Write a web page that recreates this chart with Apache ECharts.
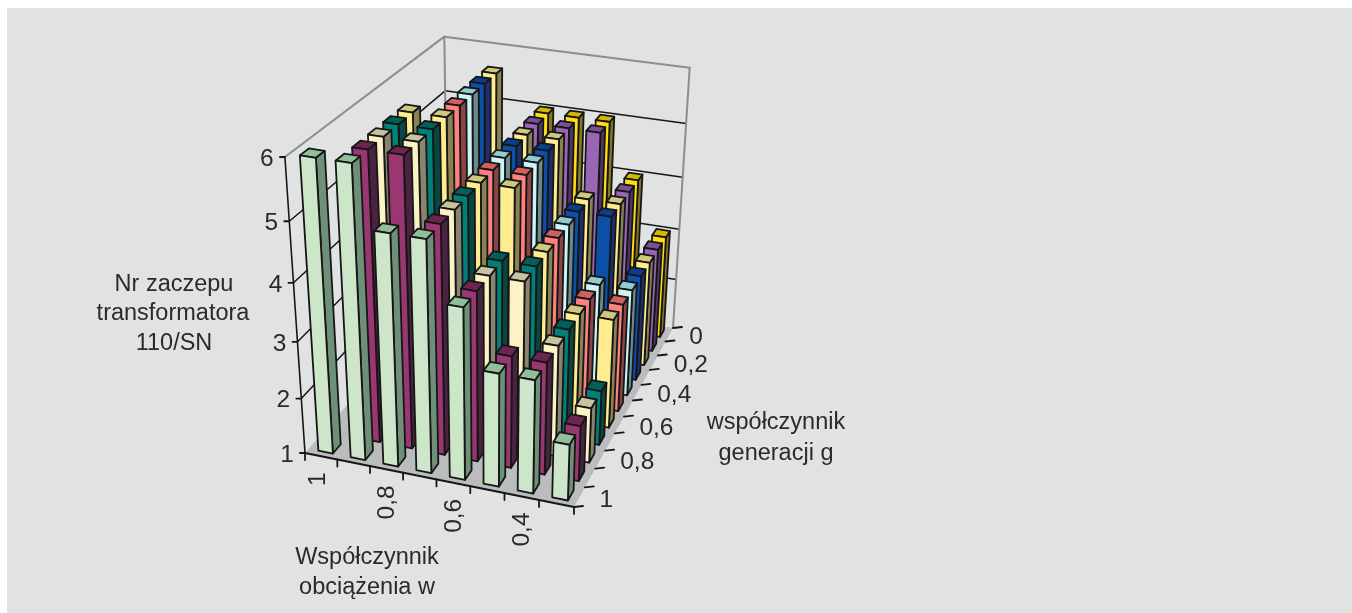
<!DOCTYPE html>
<html>
<head>
<meta charset="utf-8">
<title>Nr zaczepu transformatora 110/SN</title>
<style>
  html, body { margin: 0; padding: 0; background: #ffffff; }
  #chart { width: 1352px; height: 613px; }
</style>
<script src="https://cdn.jsdelivr.net/npm/echarts@6/dist/echarts.min.js"></script>
</head>
<body>
<div id="chart"></div>
<script>
// Load factor categories (front-left to front-right along the floor)
const loadFactors = ['1', '0,9', '0,8', '0,7', '0,6', '0,5', '0,4', '0,3'];
const loadTickLabels = ['1', '', '0,8', '', '0,6', '', '0,4', ''];
// Generation factor categories (front to back)
const genFactors = ['1', '0,9', '0,8', '0,7', '0,6', '0,5', '0,4', '0,3', '0,2', '0,1', '0'];
const genTickLabels = ['1', '', '0,8', '', '0,6', '', '0,4', '', '0,2', '', '0'];
const tapTicks = [1, 2, 3, 4, 5, 6];

// Tap position per generation factor, listed along the load factor categories
const tapG10 = [6, 6, 5, 5, 4, 3, 3, 2];
const tapG09 = [null, 6, 6, 5, 4, 3, 3, 2];
const tapG08 = [null, 6, 6, 5, 4, 4, 3, 2];
const tapG07 = [null, 6, 6, 5, 4, 4, 3, 2];
const tapG06 = [null, 6, 6, 5, 5, 4, 3, 3];
const tapG05 = [null, null, 6, 5, 5, 4, 3, 3];
const tapG04 = [null, null, 6, 5, 5, 4, 3, 3];
const tapG03 = [null, null, 6, 5, 5, 4, 4, 3];
const tapG02 = [null, null, 6, 5, 5, 4, 4, 3];
const tapG01 = [null, null, null, 5, 5, 5, 4, 3];
const tapG00 = [null, null, null, 5, 5, 5, 4, 3];

// Rows from the front of the floor to the back, with face / side / top shades
const rows = [
  { values: tapG10, face: '#cde6c9', side: '#6f9078', top: '#90c09a' },
  { values: tapG09, face: '#9a3672', side: '#4a2340', top: '#6e2450' },
  { values: tapG08, face: '#fbf3c5', side: '#87856e', top: '#c6c3a1' },
  { values: tapG07, face: '#008077', side: '#0b4541', top: '#00605a' },
  { values: tapG06, face: '#ffec90', side: '#8a8152', top: '#d0c87a' },
  { values: tapG05, face: '#ff8080', side: '#8a4545', top: '#d06060' },
  { values: tapG04, face: '#cdf5f8', side: '#6a8a8c', top: '#90ccd0' },
  { values: tapG03, face: '#0b4fa8', side: '#1e2f70', top: '#0a3e90' },
  { values: tapG02, face: '#ffec90', side: '#8a8152', top: '#d0c87a' },
  { values: tapG01, face: '#9966b4', side: '#503565', top: '#7a4f95' },
  { values: tapG00, face: '#ffdc14', side: '#857520', top: '#d6b800' }
];

// Box corners on the page
const boxFloor = { fl: [305, 453], fr: [574, 507], br: [673, 328], bl: [448, 290] };
const boxTopFrontLeft = [285, 157];
const verticalVanish = [490, 3180];

// Plane-to-quad homography for the floor
function floorHomography(q) {
  const [x0, y0] = q.fl, [x1, y1] = q.fr, [x2, y2] = q.br, [x3, y3] = q.bl;
  const dx1 = x1 - x2, dx2 = x3 - x2, sx = x0 - x1 + x2 - x3;
  const dy1 = y1 - y2, dy2 = y3 - y2, sy = y0 - y1 + y2 - y3;
  const det = dx1 * dy2 - dx2 * dy1;
  const g = (sx * dy2 - dx2 * sy) / det;
  const h = (dx1 * sy - sx * dy1) / det;
  return [x1 - x0 + g * x1, x3 - x0 + h * x3, x0,
          y1 - y0 + g * y1, y3 - y0 + h * y3, y0, g, h, 1];
}
const H = floorHomography(boxFloor);
const lambda = (boxTopFrontLeft[1] - boxFloor.fl[1]) / (verticalVanish[1] - boxTopFrontLeft[1]);

// u: 0..1 along the load axis, v: 0..1 towards the back, value: tap number
function project(u, v, value) {
  const z = (value - tapTicks[0]) / (tapTicks[tapTicks.length - 1] - tapTicks[0]);
  const X = H[0] * u + H[1] * v + H[2] + lambda * z * verticalVanish[0];
  const Y = H[3] * u + H[4] * v + H[5] + lambda * z * verticalVanish[1];
  const W = H[6] * u + H[7] * v + H[8] + lambda * z;
  return [X / W, Y / W];
}

const nLoad = loadFactors.length, nGen = genFactors.length;
const barU = [0.30, 0.75];
const barV = [0.24, 0.76];
const ink = '#161616';
const frameGrey = '#8b8d8e';
const textStyle = { fontFamily: '"Liberation Sans", Arial, sans-serif', fontSize: 23.5, fill: '#2a2a2a' };
const tickFont = { fontSize: 24.5 };

function poly(api, pts, fill, stroke, lineWidth) {
  return {
    type: 'polygon',
    shape: { points: pts.map(p => api.coord(p)) },
    style: { fill: fill, stroke: stroke || null, lineWidth: lineWidth || 0, lineJoin: 'round' }
  };
}
function seg(api, a, b, stroke, lineWidth) {
  const p = api.coord(a), q = api.coord(b);
  return {
    type: 'line',
    shape: { x1: p[0], y1: p[1], x2: q[0], y2: q[1] },
    style: { stroke: stroke, lineWidth: lineWidth, lineCap: 'round' }
  };
}
function label(api, text, at, extra) {
  const p = api.coord(at);
  return {
    type: 'text', x: p[0], y: p[1], rotation: (extra && extra.rotation) || 0,
    style: Object.assign({ text: text, align: 'center', verticalAlign: 'middle' }, textStyle, extra && extra.style)
  };
}

// Floor, walls, gridlines, ticks and every axis text
function renderFrame(params, api) {
  const kids = [];
  kids.push(poly(api, [project(0, 0, 1), project(1, 0, 1), project(1, 1, 1), project(0, 1, 1)], '#babcbd'));
  tapTicks.forEach(t => {
    const colour = t === 6 ? frameGrey : ink;
    const lw = t === 6 ? 2 : 1.5;
    if (t > 1) {
      kids.push(seg(api, project(0, 0, t), project(0, 1, t), colour, lw));
      kids.push(seg(api, project(0, 1, t), project(1, 1, t), colour, lw));
    }
    const p = project(0, 0, t);
    kids.push(seg(api, p, [p[0] - 5, p[1]], ink, 1.8));
    kids.push(label(api, String(t), [p[0] - 18, p[1] + 2], { style: tickFont }));
  });
  kids.push(seg(api, project(0, 1, 1), project(0, 1, 6), frameGrey, 2));
  kids.push(seg(api, project(1, 1, 1), project(1, 1, 6), frameGrey, 2));
  kids.push(seg(api, project(0, 0, 1), project(0, 0, 6), ink, 1.6));
  kids.push(seg(api, project(0, 0, 1), project(1, 0, 1), ink, 2.2));

  for (let i = 0; i <= nLoad; i++) {
    const p = project(i / nLoad, 0, 1);
    kids.push(seg(api, p, [p[0], p[1] + 7], ink, 1.8));
  }
  loadTickLabels.forEach((t, i) => {
    if (!t) return;
    const p = project((i + 0.5) / nLoad, 0, 1);
    kids.push(label(api, t, [p[0] + (t === '1' ? -3 : 1), p[1] + (t === '1' ? 23 : 33)], { rotation: Math.PI / 2, style: tickFont }));
  });
  for (let j = 0; j <= nGen; j++) {
    const p = project(1, j / nGen, 1);
    kids.push(seg(api, p, [p[0] + 9, p[1] - 1], ink, 1.8));
  }
  genTickLabels.forEach((t, j) => {
    if (!t) return;
    const p = project(1, (j + 0.5) / nGen, 1);
    kids.push(label(api, t, [p[0] + 20, p[1] + 3], { style: Object.assign({ align: 'left' }, tickFont) }));
  });

  kids.push(label(api, 'Nr zaczepu', [174, 285]));
  kids.push(label(api, 'transformatora', [173, 314]));
  kids.push(label(api, '110/SN', [174, 344]));
  kids.push(label(api, 'współczynnik', [776, 423]));
  kids.push(label(api, 'generacji g', [776, 454]));
  kids.push(label(api, 'Współczynnik', [367, 558]));
  kids.push(label(api, 'obciążenia w', [367, 588]));
  return { type: 'group', children: kids };
}

// One bar: front, right and top faces on the floor cell of its category pair
function renderBar(row, rowIndex) {
  return function (params, api) {
    const i = api.value(0), value = api.value(1);
    const u0 = (i + barU[0]) / nLoad, u1 = (i + barU[1]) / nLoad;
    const v0 = (rowIndex + barV[0]) / nGen, v1 = (rowIndex + barV[1]) / nGen;
    const a = project(u0, v0, 1), b = project(u1, v0, 1), c = project(u1, v1, 1);
    const at = project(u0, v0, value), bt = project(u1, v0, value);
    const ct = project(u1, v1, value), dt = project(u0, v1, value);
    return {
      type: 'group',
      children: [
        poly(api, [b, c, ct, bt], row.side, ink, 1.8),
        poly(api, [at, bt, ct, dt], row.top, ink, 1.8),
        poly(api, [a, b, bt, at], row.face, ink, 1.8)
      ]
    };
  };
}

// Back rows are painted first so nearer bars cover them
const barSeries = rows.map((row, rowIndex) => ({
  type: 'custom',
  name: 'g = ' + genFactors[rowIndex],
  coordinateSystem: 'cartesian2d',
  silent: true,
  clip: false,
  animation: false,
  z: 10 + (nGen - rowIndex),
  renderItem: renderBar(row, rowIndex),
  encode: { x: -1, y: -1 },
  data: row.values.map((v, i) => [i, v]).filter(d => d[1] !== null)
}));

const chart = echarts.init(document.getElementById('chart'), null, { renderer: 'canvas' });
chart.setOption({
  animation: false,
  backgroundColor: '#ffffff',
  graphic: [{ type: 'rect', z: -10, shape: { x: 7, y: 8, width: 1345, height: 605 }, style: { fill: '#e1e3e2' } }],
  grid: { left: 0, right: 0, top: 0, bottom: 0 },
  xAxis: { type: 'value', min: 0, max: 1352, show: false },
  yAxis: { type: 'value', min: 0, max: 613, inverse: true, show: false },
  series: [{
    type: 'custom',
    name: 'frame',
    coordinateSystem: 'cartesian2d',
    silent: true,
    clip: false,
    animation: false,
    z: 5,
    renderItem: renderFrame,
    encode: { x: -1, y: -1 },
    data: [[0, 0]]
  }].concat(barSeries)
});
</script>
</body>
</html>
